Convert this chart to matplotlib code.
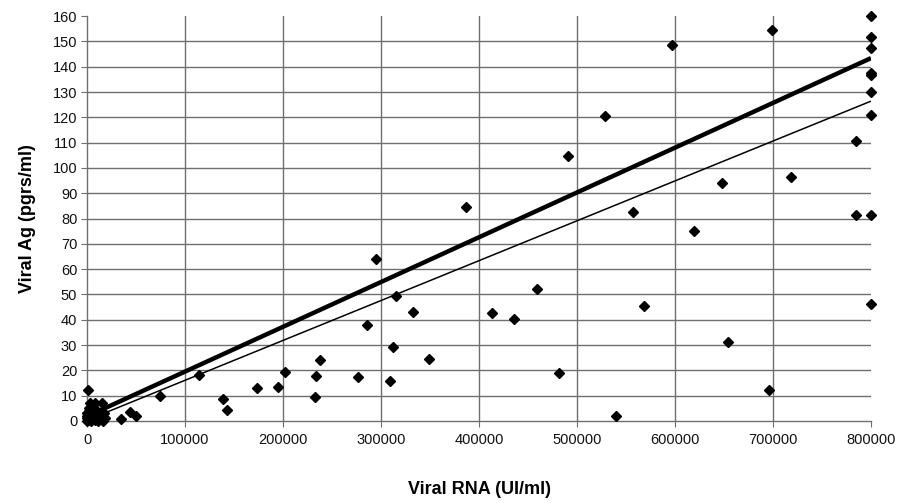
import matplotlib
matplotlib.use("Agg")
import matplotlib.pyplot as plt
import numpy as np

plt.rcParams['font.family'] = ['Liberation Sans', 'DejaVu Sans']

# Data: viral RNA (UI/ml) vs viral Ag (pgrs/ml)
rna = [0, 0, 0, 0, 500, 1000, 1300, 1500, 2000, 2500, 3000, 4000, 5000, 6000, 7000,
       8000, 8000, 9000, 10000, 11000, 12000, 14000, 15000, 16000, 17000, 18000,
       34400, 43900, 50000, 74000, 114600, 138500, 143200, 173800, 195300, 201700,
       232700, 233300, 237800, 276900, 285700, 294600, 309200, 312600, 315000,
       332300, 349400, 386400, 413300, 435400, 459500, 482000, 490500, 528600,
       540100, 557100, 568000, 597200, 619400, 647600, 654400, 695600, 699300,
       718000, 784400, 784400,
       800000, 800000, 800000, 800000, 800000, 800000, 800000, 800000, 800000]
ag = [0, 1, 2, 3, 2.5, 0.5, 12.2, 5, 1.5, 4, 7, 0, 2, 3, 1,
      0.5, 7, 2.5, 4, 0, 1, 2, 7, 0, 3, 1,
      0.7, 3.4, 2.0, 9.8, 18.2, 8.6, 4.3, 12.9, 13.6, 19.2,
      9.4, 17.9, 24.1, 17.5, 37.9, 64.1, 15.8, 29.4, 49.2,
      43.2, 24.5, 84.7, 42.8, 40.2, 52.2, 18.8, 104.8, 120.5,
      2.1, 82.4, 45.3, 148.6, 75.0, 93.9, 31.1, 12.2, 154.5,
      96.5, 110.7, 81.4,
      160.0, 151.8, 147.6, 137.4, 136.8, 130.1, 120.8, 81.4, 46.1]

# Regression lines (start/end points)
fit_x = [10000, 800000]
thick_y = [3.6, 143.4]
thin_y = [1.9, 126.4]

x_ticks = [0, 100000, 200000, 300000, 400000, 500000, 600000, 700000, 800000]
y_ticks = list(range(0, 161, 10))

fig = plt.figure(figsize=(9.02, 5.04), dpi=100)
ax = fig.add_axes([0.0965, 0.1647, 0.8691, 0.8033])

ax.set_xlim(0, 800000)
ax.set_ylim(0, 160)
ax.set_xticks(x_ticks)
ax.set_yticks(y_ticks)
ax.set_xticklabels([str(v) for v in x_ticks])
ax.set_yticklabels([str(v) for v in y_ticks])

grid_c = '#6f6f6f'
for yv in y_ticks[1:-1]:
    ax.axhline(yv, color=grid_c, lw=1.0, zorder=1)
for xv in x_ticks[1:-1]:
    ax.axvline(xv, color=grid_c, lw=1.0, zorder=1)

for s in ['top', 'right']:
    ax.spines[s].set_visible(False)
ax.spines['left'].set_color(grid_c)
ax.spines['bottom'].set_color(grid_c)
ax.spines['left'].set_linewidth(1.0)
ax.spines['bottom'].set_linewidth(1.0)
ax.tick_params(axis='both', direction='out', length=4, color=grid_c,
               labelsize=10.5, labelcolor='#111111')
ax.tick_params(axis='x', pad=5)
ax.tick_params(axis='y', pad=3)

ax.plot(fit_x, thick_y, color='black', lw=3.2, zorder=3, solid_capstyle='butt')
ax.plot(fit_x, thin_y, color='black', lw=1.1, zorder=3, solid_capstyle='butt')
ax.plot(rna, ag, linestyle='none', marker='D', markersize=5, color='black', zorder=4,
        clip_on=False)

ax.set_xlabel('Viral RNA (UI/ml)', fontsize=13, fontweight='bold', labelpad=24)
ax.set_ylabel('Viral Ag (pgrs/ml)', fontsize=13, fontweight='bold', labelpad=12)

fig.savefig('out.png', dpi=100)
